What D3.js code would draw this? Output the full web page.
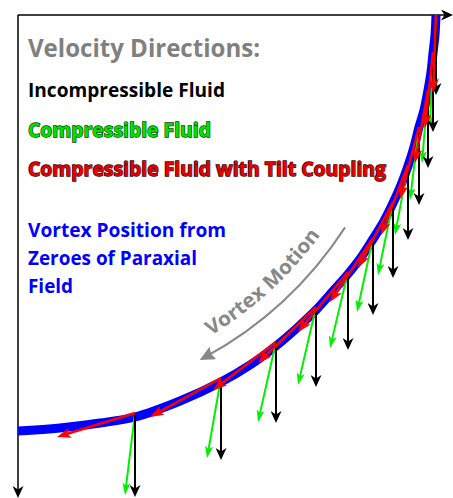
<!DOCTYPE html>
<html>
<head>
<meta charset="utf-8">
<script src="https://cdn.jsdelivr.net/npm/d3@7"></script>
<style>
  html, body { margin: 0; padding: 0; background: #fff; }
  svg { display: block; font-family: "Open Sans", Lato, sans-serif; font-weight: bold; }
</style>
</head>
<body>
<svg id="chart" width="453" height="498"></svg>
<script>
// vortex positions (zeroes of the paraxial field), origin at the axes corner, y down
var vortexX = [418, 415, 410, 401, 390, 375, 355, 330, 298, 258, 203, 117];
var vortexY = [0, 37, 75, 112, 150, 187, 223, 257, 292, 327, 363, 398];

// blue track of the vortex
var trackX = [418, 417, 415, 413, 410, 406, 401, 396, 390, 383, 375, 366, 355, 344, 330, 315, 298, 279, 258, 232, 203, 162, 117, 82, 42, 0];
var trackY = [0, 20, 38, 57, 75, 95, 112, 132, 151, 170, 188, 206, 224, 241, 259, 276, 295, 313, 331, 350, 367, 386, 402, 408, 413, 416];

// velocity vectors
var incompDX = [0, 0, 0, 0, 0, 0, 0, 0, 0, 0, 0, 0];
var incompDY = [80, 80, 78, 78, 75, 76, 77, 78, 80, 81, 82, 84];
var compDX = [-1, -3, -6, -9, -13, -15, -16, -18, -18, -18, -14, -10];
var compDY = [75, 75, 73, 73, 70, 73, 74, 76, 78, 80, 80, 82];
var tiltDX = [-3, -8, -13, -19, -27, -35, -43, -50, -58, -63, -71, -78];
var tiltDY = [78, 76, 73, 72, 70, 66, 64, 60, 56, 48, 39, 24];

var legendLines = ["Incompressible Fluid", "Compressible Fluid", "Compressible Fluid with Tilt Coupling"];
var trackLabel = ["Vortex Position from", "Zeroes of Paraxial", "Field"];

var svg = d3.select('#chart');
var x = d3.scaleLinear().domain([0, 430]).range([18, 448]);
var y = d3.scaleLinear().domain([0, 480]).range([15, 495]);

var defs = svg.append('defs');
function marker(id, color, len, half, notch) {
  defs.append('marker')
    .attr('id', id)
    .attr('markerUnits', 'userSpaceOnUse')
    .attr('viewBox', '0 ' + (-half) + ' ' + len + ' ' + (2 * half))
    .attr('markerWidth', len).attr('markerHeight', 2 * half)
    .attr('refX', len - 5).attr('refY', 0)
    .attr('orient', 'auto')
    .append('path')
    .attr('d', 'M0,' + (-half) + ' L' + len + ',0 L0,' + half + ' L' + notch + ',0 Z')
    .attr('fill', color);
}
marker('ah-axis', '#000', 12, 5.5, 3.5);
marker('ah-black', '#000', 12, 5.5, 3.5);
marker('ah-green', '#00ee00', 12, 4, 3);
marker('ah-red', '#ff0000', 14, 5, 3.5);
marker('ah-gray', '#888', 15, 7, 2);

// shorten a segment so the marker tip lands on the real end
function seg(x1, y1, x2, y2, cut) {
  var dx = x2 - x1, dy = y2 - y1, L = Math.sqrt(dx * dx + dy * dy);
  return [x1, y1, x2 - dx / L * cut, y2 - dy / L * cut];
}

// axes
var h = seg(x(0), y(0), 453, y(0), 5);
svg.append('line').attr('x1', h[0]).attr('y1', h[1]).attr('x2', h[2]).attr('y2', h[3])
  .attr('stroke', '#000').attr('stroke-width', 1.5).attr('marker-end', 'url(#ah-axis)');
var v = seg(x(0), y(0), x(0), 498, 5);
svg.append('line').attr('x1', v[0]).attr('y1', v[1]).attr('x2', v[2]).attr('y2', v[3])
  .attr('stroke', '#000').attr('stroke-width', 1.5).attr('marker-end', 'url(#ah-axis)');

// vortex motion arrow + label (concentric with the track)
var cx = x(0), cy = y(0);
function arcPath(r, a0, a1) {
  var p0 = [cx + r * Math.cos(a0), cy + r * Math.sin(a0)];
  var p1 = [cx + r * Math.cos(a1), cy + r * Math.sin(a1)];
  var sweep = a1 > a0 ? 1 : 0;
  return 'M' + p0[0] + ',' + p0[1] + ' A' + r + ',' + r + ' 0 0 ' + sweep + ' ' + p1[0] + ',' + p1[1];
}
var rad = Math.PI / 180;
svg.append('path').attr('d', arcPath(390, 33 * rad, 61.5 * rad))
  .attr('fill', 'none').attr('stroke', '#888').attr('stroke-width', 2)
  .attr('marker-end', 'url(#ah-gray)');
defs.append('path').attr('id', 'motionPath').attr('d', arcPath(374, 59 * rad, 30 * rad));
svg.append('text').attr('fill', '#888').attr('font-size', 20)
  .append('textPath').attr('href', '#motionPath')
  .attr('textLength', 150).attr('lengthAdjust', 'spacingAndGlyphs')
  .text('Vortex Motion');

// track
var line = d3.line().x(function (d) { return x(d[0]); }).y(function (d) { return y(d[1]); })
  .curve(d3.curveCatmullRom);
svg.append('path').datum(d3.zip(trackX, trackY)).attr('d', line)
  .attr('fill', 'none').attr('stroke', '#0000ff').attr('stroke-width', 9);

// velocity arrows: green, black, then red on top
function arrows(dx, dy, color, mk, w) {
  svg.append('g').selectAll('line').data(vortexX).join('line')
    .each(function (d, i) {
      var s = seg(x(vortexX[i]), y(vortexY[i]), x(vortexX[i] + dx[i]), y(vortexY[i] + dy[i]), 5);
      d3.select(this).attr('x1', s[0]).attr('y1', s[1]).attr('x2', s[2]).attr('y2', s[3]);
    })
    .attr('stroke', color).attr('stroke-width', w)
    .attr('marker-end', 'url(#' + mk + ')');
}
arrows(compDX, compDY, '#00ee00', 'ah-green', 2);
arrows(incompDX, incompDY, '#000', 'ah-black', 2);
arrows(tiltDX, tiltDY, '#ff0000', 'ah-red', 2.5);

// legend text
svg.append('text').attr('x', 28).attr('y', 57).attr('font-size', 25).attr('fill', '#808080')
  .attr('textLength', 232).attr('lengthAdjust', 'spacingAndGlyphs').text('Velocity Directions:');
var legFill = ['#000', '#00e000', '#e80000'];
var legStroke = ['none', '#0a3a0a', '#3a0000'];
var legW = [197, 183, 358];
var legY = [97, 137, 176];
svg.append('g').selectAll('text').data(legendLines).join('text')
  .attr('x', 28).attr('y', function (d, i) { return legY[i]; })
  .attr('font-size', 20)
  .attr('fill', function (d, i) { return legFill[i]; })
  .attr('stroke', function (d, i) { return legStroke[i]; })
  .attr('stroke-width', 1.4).attr('paint-order', 'stroke')
  .attr('textLength', function (d, i) { return legW[i]; })
  .attr('lengthAdjust', 'spacingAndGlyphs')
  .text(function (d) { return d; });

var trkW = [198, 169, 45];
svg.append('g').selectAll('text').data(trackLabel).join('text')
  .attr('x', 28).attr('y', function (d, i) { return 237 + i * 28; })
  .attr('font-size', 20).attr('fill', '#0000ff')
  .attr('textLength', function (d, i) { return trkW[i]; })
  .attr('lengthAdjust', 'spacingAndGlyphs')
  .text(function (d) { return d; });
</script>
</body>
</html>
